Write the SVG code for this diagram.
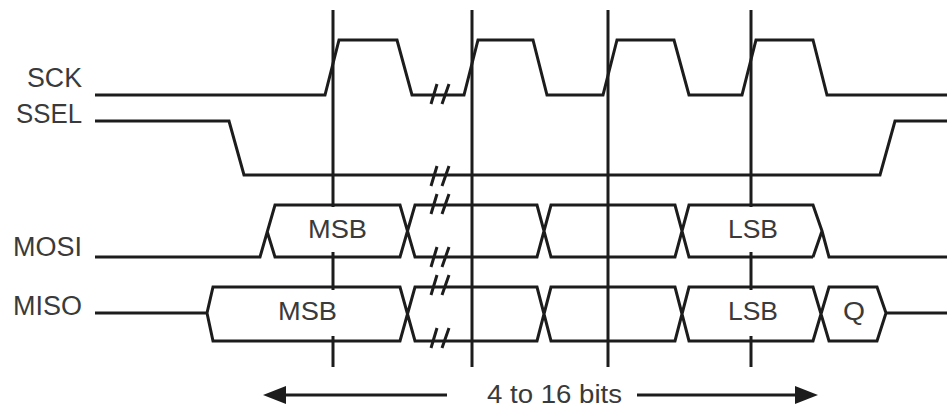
<svg xmlns="http://www.w3.org/2000/svg" width="950" height="412" viewBox="0 0 950 412">
<style>
.w{fill:none;stroke:#1c1c1c;stroke-width:3;stroke-linejoin:miter;stroke-linecap:butt}
.lbl{font-family:"Liberation Sans",Arial,sans-serif;font-size:27px;fill:#3a3a3a}
.box{font-family:"Liberation Sans",Arial,sans-serif;font-size:26px;fill:#3a3a3a;text-anchor:middle}
.ah{fill:#1c1c1c}
</style>
<defs>
<path id="brk" d="M-11,10 L-5,-10 M0,10 L7,-10" class="w"/>
</defs>
<rect width="950" height="412" fill="#fff"/>
<g id="labels">
<text class="lbl" x="82" y="87" text-anchor="end" textLength="55" lengthAdjust="spacingAndGlyphs">SCK</text>
<text class="lbl" x="82" y="123" text-anchor="end" textLength="66" lengthAdjust="spacingAndGlyphs">SSEL</text>
<text class="lbl" x="82" y="256" text-anchor="end" textLength="69" lengthAdjust="spacingAndGlyphs">MOSI</text>
<text class="lbl" x="82" y="315" text-anchor="end" textLength="69" lengthAdjust="spacingAndGlyphs">MISO</text>
</g>
<g id="clock-edges">
<path class="w" d="M333,10 V207 M333,252 V290 M333,336 V367"/>
<path class="w" d="M472,10 V367"/>
<path class="w" d="M608,10 V367"/>
<path class="w" d="M751,10 V207 M751,252 V290 M751,336 V367"/>
</g>
<g id="sck">
<path class="w" d="M95,95 H325 L339,40 H397 L412,95 H464 L478,40 H533 L547,95 H603 L617,40 H674 L689,95 H742 L756,40 H813 L827,95 H947"/>
</g>
<g id="ssel">
<path class="w" d="M95,121 H229 L244,175 H880 L895,121 H947"/>
</g>
<g id="mosi">
<path class="w" d="M95,257 H260 L275,205 H400 L415,257 H537 L551,205 H675 L689,257 H813 M267,231 L275,257 H400 L415,205 H537 L551,257 H675 L689,205 H813 L822,231 L829,257 H947 M813,257 L822,231"/>
<text class="box" x="337.5" y="238" textLength="59" lengthAdjust="spacingAndGlyphs">MSB</text>
<text class="box" x="753" y="238" textLength="50" lengthAdjust="spacingAndGlyphs">LSB</text>
</g>
<g id="miso">
<path class="w" d="M95,313 H207 L213,287 H400 L415,341 H537 L551,287 H675 L689,341 H813 L829,287 H877 L886,313 H947 M207,313 L213,341 H400 L415,287 H537 L551,341 H675 L689,287 H813 L829,341 H877 L886,313"/>
<text class="box" x="307.5" y="320" textLength="59" lengthAdjust="spacingAndGlyphs">MSB</text>
<text class="box" x="753" y="320" textLength="50" lengthAdjust="spacingAndGlyphs">LSB</text>
<text class="box" x="854" y="320" textLength="22" lengthAdjust="spacingAndGlyphs">Q</text>
</g>
<g id="breaks">
<use href="#brk" x="442" y="94"/>
<use href="#brk" x="442" y="176"/>
<use href="#brk" x="442" y="204"/>
<use href="#brk" x="442" y="257"/>
<use href="#brk" x="442" y="285"/>
<use href="#brk" x="442" y="338"/>
</g>
<g id="span-arrow">
<path class="w" d="M283,395 H447 M637,395 H798"/>
<path class="ah" d="M263,395 L286,386 L286,404 Z"/>
<path class="ah" d="M818,395 L795,386 L795,404 Z"/>
<text class="box" x="554.5" y="403" textLength="135" lengthAdjust="spacingAndGlyphs">4 to 16 bits</text>
</g>
</svg>
